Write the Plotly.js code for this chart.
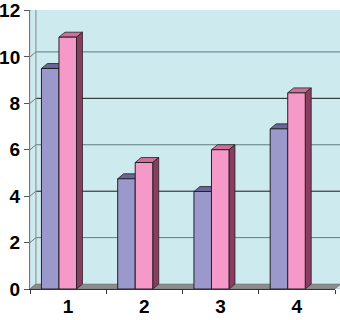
<!DOCTYPE html>
<html><head>
<script src="https://cdn.plot.ly/plotly-3.0.1.min.js"></script>
<style>html,body{margin:0;padding:0;background:#fff}</style>
</head><body>
<div id="chart" style="width:340px;height:320px"></div>
<script>
const categories = ['1', '2', '3', '4'];
const seriesA = [9.5, 4.75, 4.2, 6.9];
const seriesB = [10.85, 5.45, 6.0, 8.45];
const yTicks = [0, 2, 4, 6, 8, 10, 12];

// style / geometry constants
const colA = '#9b98cc', colB = '#f59ac8';
const topA = '#6a6699', topB = '#cc6f9c', sideB = '#8a3d60';
const offA = -0.35, offB = -0.12, barW = 0.23;
const dx = 0.078, dy = 0.214;       // depth in data units
const dxp = dx / 4;                  // depth in paper units (4 categories wide)
const yMax = 12.02;

const shapes = [];
// back wall
shapes.push({type:'rect', xref:'paper', yref:'y', x0:0, x1:1 + dxp, y0:0, y1:12 + dy,
  fillcolor:'#cdeaee', line:{color:'#9ab', width:0.5}, layer:'below'});
// floor
shapes.push({type:'path', xref:'paper', yref:'y', path:`M0,0 L${dxp},${dy} L${1+dxp},${dy} L1,0 Z`,
  fillcolor:'#8c8c8c', line:{color:'#666', width:0.5}, layer:'below'});
// gridlines on wall + connectors
yTicks.forEach((t, k) => {
  if (t > 0) {
    shapes.push({type:'line', xref:'paper', yref:'y', x0:dxp, x1:1 + dxp, y0:t + dy, y1:t + dy,
      line:{color: (k % 2 ? '#5f7c82' : '#1a1a1a'), width:1}, layer:'below'});
  }
  shapes.push({type:'line', xref:'paper', yref:'y', x0:0, x1:dxp, y0:t, y1:t + dy,
    line:{color:'#777', width:1}, layer:'below'});
});
// wall left edge
shapes.push({type:'line', xref:'paper', yref:'y', x0:dxp, x1:dxp, y0:dy, y1:12 + dy,
  line:{color:'#888', width:1}, layer:'below'});

function faces(vals, off, topCol, withSide) {
  vals.forEach((v, i) => {
    const x0 = i + off, x1 = x0 + barW;
    shapes.push({type:'path', xref:'x', yref:'y', layer:'between',
      path:`M${x0},${v} L${x0+dx},${v+dy} L${x1+dx},${v+dy} L${x1},${v} Z`,
      fillcolor:topCol, line:{color:'#222', width:0.8}});
    if (withSide) {
      shapes.push({type:'path', xref:'x', yref:'y', layer:'between',
        path:`M${x1},0 L${x1+dx},${dy} L${x1+dx},${v+dy} L${x1},${v} Z`,
        fillcolor:sideB, line:{color:'#222', width:0.8}});
    }
  });
}
faces(seriesA, offA, topA, false);
faces(seriesB, offB, topB, true);

const data = [
  {type:'bar', x:categories, y:seriesA, offset:offA, width:barW,
   marker:{color:colA, line:{color:'#222', width:1}}, hoverinfo:'none'},
  {type:'bar', x:categories, y:seriesB, offset:offB, width:barW,
   marker:{color:colB, line:{color:'#222', width:1}}, hoverinfo:'none'}
];

const tf = {family:'Liberation Sans, Arial, sans-serif', size:19, color:'#000', weight:'bold'};
const layout = {
  width:340, height:320,
  margin:{l:30, r:5, t:10, b:31},
  paper_bgcolor:'#fff', plot_bgcolor:'rgba(0,0,0,0)',
  showlegend:false, barmode:'group',
  font:tf,
  xaxis:{type:'category', range:[-0.5, 3.5], showgrid:false, zeroline:false,
    showline:true, linecolor:'#333', linewidth:1,
    ticks:'outside', tickson:'boundaries', ticklen:4, tickcolor:'#333', tickfont:tf},
  yaxis:{range:[0, yMax], tickvals:yTicks, ticktext:yTicks.map(String), showgrid:false, zeroline:false,
    showline:true, linecolor:'#777', linewidth:1, ticks:'outside', ticklen:5, tickcolor:'#555',
    ticklabeloverflow:'allow', tickfont:tf},
  shapes:shapes
};

Plotly.newPlot('chart', data, layout, {staticPlot:true, displayModeBar:false});
</script>
</body></html>
